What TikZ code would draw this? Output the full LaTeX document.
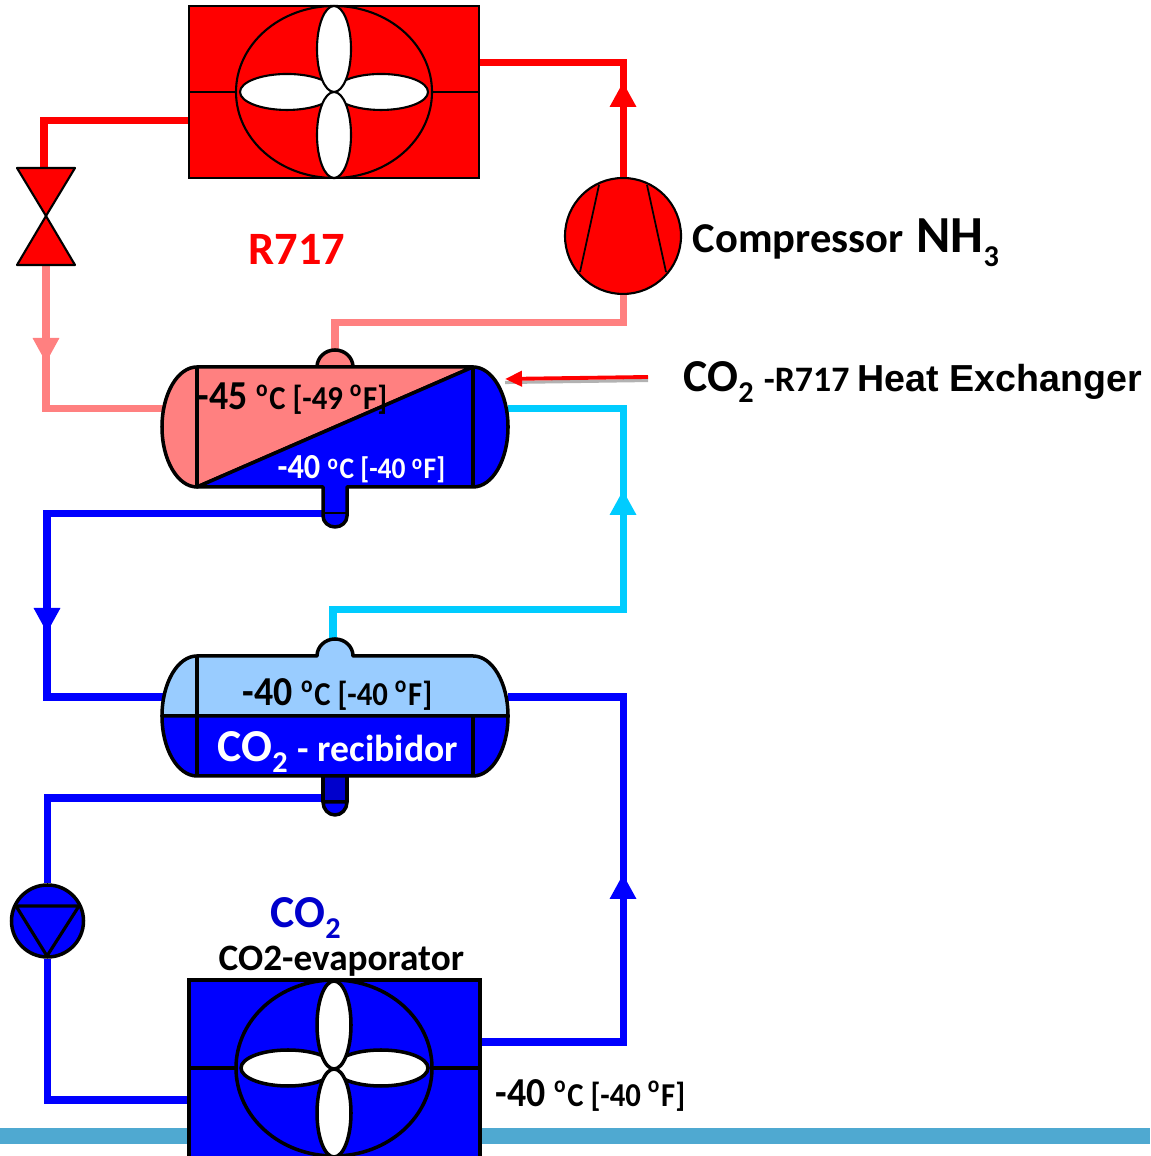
\documentclass[tikz,border=0pt]{standalone}
\usepackage{fontspec}
\setmainfont{Carlito}[BoldFont={Carlito Bold}]
\newfontfamily\arialbold{Liberation Sans Bold}
\usetikzlibrary{arrows.meta}
\definecolor{salmon}{HTML}{FF8080}
\definecolor{coolblue}{HTML}{0000FF}
\definecolor{paleblue}{HTML}{99CCFF}
\definecolor{iceblue}{HTML}{00CCFF}
\definecolor{darkco}{HTML}{0000CC}
\definecolor{band}{HTML}{4FA9D1}
\newcommand{\fsz}[1]{\fontsize{#1}{#1}\selectfont}
\newcommand{\subnum}[2][-.11cm]{\raisebox{#1}{\fsz{8.6}#2}}
\tikzset{
  pipe/.style={line width=2pt,line join=miter,line cap=butt},
  flow/.style={pipe,-{Triangle[width=.25cm,length=.25cm]}},
  tank/.style={draw=black,line width=1pt,line join=round},
  label/.style={inner sep=0pt,font=\bfseries},
  templabel/.style={label,transform shape,xscale=.92}
}

\begin{document}
\begin{tikzpicture}[x=1.0cm,y=1.0cm]
    \useasboundingbox (0,0) rectangle (11.5,11.56);
    \clip (0,0) rectangle (11.5,11.56);

    \fill [band] (0,.12) rectangle (11.5,.28);

    %pipe ends
    \coordinate (condout) at (4.80,10.93);
    \coordinate (condin) at (1.89,10.35);
    \coordinate (valvein) at (.44,9.88);
    \coordinate (valveout) at (.46,8.91);
    \coordinate (hxleft) at (1.64,7.47);
    \coordinate (hxdome) at (3.35,8.04);
    \coordinate (hxright) at (5.08,7.47);
    \coordinate (hxstub) at (3.23,6.42);
    \coordinate (recleft) at (1.63,4.59);
    \coordinate (recright) at (5.08,4.59);
    \coordinate (recdome) at (3.33,5.16);
    \coordinate (recstub) at (3.23,3.58);
    \coordinate (evapin) at (1.89,.56);
    \coordinate (evapout) at (4.80,1.14);
    \coordinate (tipa) at (6.23,10.74);
    \coordinate (tipb) at (.46,7.93);
    \coordinate (tipc) at (.47,5.23);
    \coordinate (tipd) at (6.23,6.66);
    \coordinate (tipe) at (6.23,2.82);
    \coordinate (hxtip) at (5.05,7.77);
    \coordinate (hxtail) at (6.48,7.79);

    %machines that the pipes run into
    \node [draw=black,fill=red,circle,line width=.6pt,minimum size=1.16cm,inner sep=0pt] (comp) at (6.23,9.20) {};
    \node [draw=black,fill=coolblue,circle,line width=1pt,minimum size=.72cm,inner sep=0pt] (pump) at (.475,2.35) {};

    \draw [red,pipe] (condin) -| (valvein);
    \draw [red,pipe] (comp.north) |- (condout);
    \draw [red,flow] (comp.north) -- (tipa);
    \draw [salmon,pipe] (valveout) |- (hxleft);
    \draw [salmon,flow] (valveout) -- (tipb);
    \draw [salmon,pipe] (comp.south) |- (3.35,8.33) -- (hxdome);
    \draw [coolblue,pipe] (hxstub) -| (tipc) |- (recleft);
    \draw [coolblue,flow] (.47,6.42) -- (tipc);
    \draw [iceblue,pipe] (recdome) |- (6.23,5.46) |- (hxright);
    \draw [iceblue,flow] (6.23,5.46) -- (tipd);
    \draw [coolblue,pipe] (recstub) -| (pump.north);
    \draw [coolblue,pipe] (pump.south) |- (evapin);
    \draw [coolblue,pipe] (evapout) -| (tipe) |- (recright);
    \draw [coolblue,flow] (6.23,1.14) -- (tipe);

    %condenser
    \node [draw=black,fill=red,line width=.7pt,minimum width=2.9cm,minimum height=1.72cm,inner sep=0pt] (cond) at (3.34,10.64) {};
    \draw [line width=.6pt] (3.34,10.64) ellipse [x radius=.98,y radius=.86];
    \draw [line width=.6pt] (1.89,10.64) -- (2.36,10.64);
    \draw [line width=.6pt] (4.32,10.64) -- (4.79,10.64);
    \foreach \x in {2.87,3.81}
        \draw [line width=.6pt,fill=white] (\x,10.64) ellipse [x radius=.47,y radius=.18];
    \foreach \y in {11.07,10.21}
        \draw [line width=.6pt,fill=white] (3.34,\y) ellipse [x radius=.17,y radius=.43];

    %valve
    \draw [line width=.6pt,fill=red,line join=round] (.17,9.88) -- (.75,9.88) -- (.46,9.40) -- cycle;
    \draw [line width=.6pt,fill=red,line join=round] (.46,9.40) -- (.75,8.91) -- (.17,8.91) -- cycle;

    %compressor
    \draw [line width=.5pt] (5.99,9.71) -- (5.80,8.84);
    \draw [line width=.5pt] (6.47,9.71) -- (6.66,8.84);

    %heat exchanger
    \draw [tank,fill=salmon] (3.17,7.89) arc [start angle=180,end angle=0,x radius=.18,y radius=.17];
    \draw [tank,fill=salmon] (1.97,6.69) arc [start angle=270,end angle=90,x radius=.35,y radius=.6] -- (4.73,7.89) -- cycle;
    \draw [tank,fill=coolblue] (1.97,6.69) -- (3.23,6.69) -- (3.23,6.40) arc [start angle=180,end angle=360,x radius=.12,y radius=.11] -- (3.47,6.69) -- (4.73,6.69) arc [start angle=-90,end angle=90,x radius=.35,y radius=.6] -- cycle;
    \draw [tank] (1.97,6.69) -- (1.97,7.89);
    \draw [tank] (4.73,6.69) -- (4.73,7.89);
    \draw [line width=.6pt] (3.23,6.43) -- (3.47,6.43);

    %receiver
    \draw [tank,fill=darkco] (3.23,3.80) -- (3.23,3.54) -- (3.47,3.54) -- (3.47,3.80);
    \draw [tank,fill=coolblue] (3.23,3.54) arc [start angle=180,end angle=360,x radius=.12,y radius=.13] -- cycle;
    \draw [tank,fill=paleblue] (1.62,4.40) arc [start angle=180,end angle=90,x radius=.35,y radius=.6] -- (3.17,5.00) arc [start angle=180,end angle=0,x radius=.18,y radius=.17] -- (4.73,5.00) arc [start angle=90,end angle=0,x radius=.35,y radius=.6] -- cycle;
    \draw [tank,fill=coolblue] (1.62,4.40) arc [start angle=180,end angle=270,x radius=.35,y radius=.6] -- (4.73,3.80) arc [start angle=270,end angle=360,x radius=.35,y radius=.6] -- cycle;
    \draw [tank] (1.97,3.80) -- (1.97,5.00);
    \draw [tank] (4.73,3.80) -- (4.73,4.40);

    %pump
    \draw [line width=.9pt,line join=round] (.16,2.50) -- (.79,2.50) -- (.47,2.00) -- cycle;

    %evaporator
    \node [draw=black,fill=coolblue,line width=1pt,minimum width=2.91cm,minimum height=1.90cm,inner sep=0pt] (evap) at (3.345,.81) {};
    \draw [line width=1pt] (3.34,.88) ellipse [x radius=.98,y radius=.88];
    \draw [line width=1pt] (1.89,.88) -- (2.36,.88);
    \draw [line width=1pt] (4.32,.88) -- (4.80,.88);
    \foreach \x in {2.88,3.81}
        \draw [line width=1pt,fill=white] (\x,.88) ellipse [x radius=.47,y radius=.18];
    \foreach \y in {1.31,.43}
        \draw [line width=1pt,fill=white] (3.34,\y) ellipse [x radius=.17,y radius=.44];

    %pointer to the exchanger
    \draw [black!30,line width=.9pt] ([yshift=-.035cm]hxtail) -- ([yshift=-.035cm]hxtip);
    \draw [red,line width=1.1pt,-{Triangle[width=.15cm,length=.17cm]}] (hxtail) -- (hxtip);

    %labels
    \node [label,red,anchor=base] (r717) at (2.97,8.91) {\fsz{13.2}R717};
    \node [label,anchor=base west] (complabel) at (6.92,9.03) {\fsz{12.1}Compressor\hspace{.13cm}\fsz{14.8}NH\subnum[-.14cm]{3}};
    \node [label,anchor=base west] (hxlabel) at (6.83,7.64) {\fsz{13}CO\subnum{2}\hspace{.1cm}\fsz{10.2}-R717 {\arialbold\fsz{10.7}Heat Exchanger}};
    \node [templabel,anchor=base west] (hxcold) at (1.97,7.46) {\fsz{11.7}-45 \fsz{9.5}\textsuperscript{o}C [-49 \textsuperscript{o}F]};
    \node [templabel,white,anchor=base west] (hxwarm) at (2.77,6.77) {\fsz{10}-40 \fsz{8.5}\textsuperscript{o}C [-40 \textsuperscript{o}F]};
    \node [templabel,anchor=base west] (rectemp) at (2.42,4.50) {\fsz{11.7}-40 \fsz{9.5}\textsuperscript{o}C [-40 \textsuperscript{o}F]};
    \node [label,white,anchor=base west] (reclabel) at (2.17,3.94) {\fsz{13}CO\subnum{2}\hspace{.1cm}\fsz{10.7}- recibidor};
    \node [label,color=darkco,anchor=base west] (colabel) at (2.70,2.28) {\fsz{13}CO\subnum{2}};
    \node [label,anchor=base west] (evaplabel) at (2.18,1.85) {\fsz{10.6}CO2-evaporator};
    \node [templabel,anchor=base west] (evaptemp) at (4.95,.50) {\fsz{11.7}-40 \fsz{9.5}\textsuperscript{o}C [-40 \textsuperscript{o}F]};
\end{tikzpicture}
\end{document}
